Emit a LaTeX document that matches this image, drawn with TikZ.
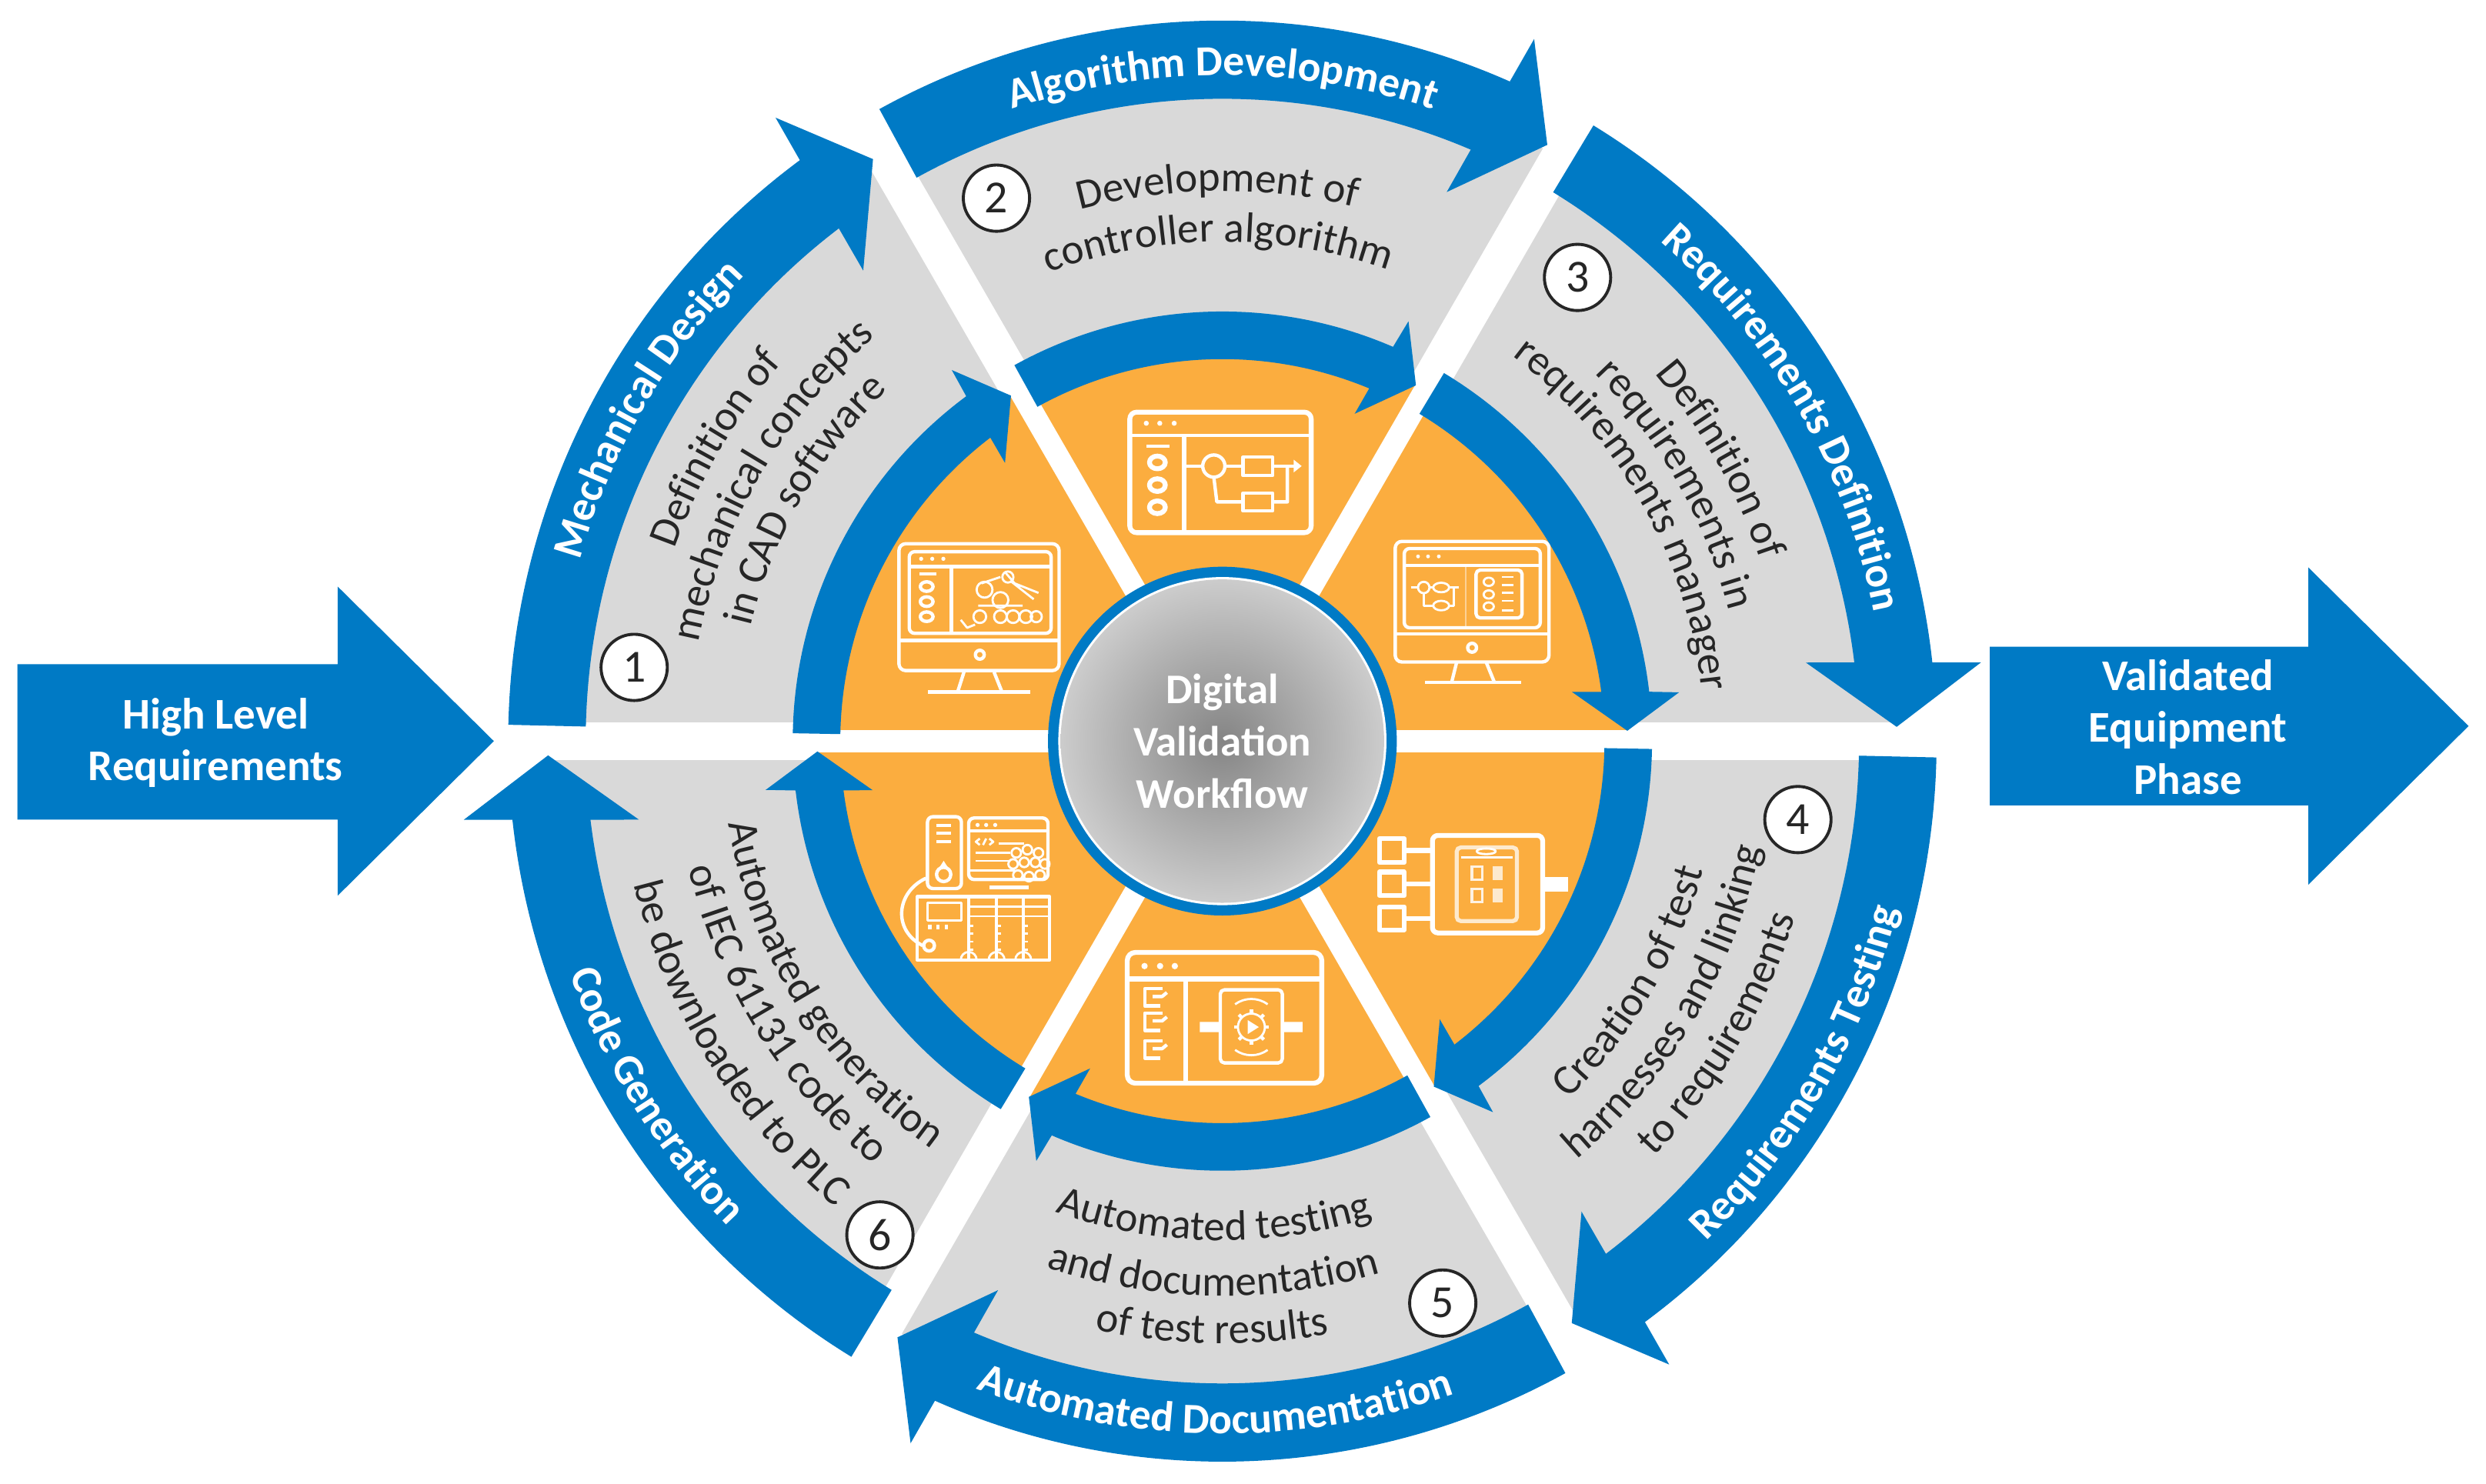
\documentclass[tikz,border=0pt]{standalone}
\usepackage{fontspec}
\setmainfont{Carlito}
\usetikzlibrary{decorations.text}
\definecolor{wfblue}{HTML}{007AC5}
\definecolor{wforange}{HTML}{FBAD3F}
\definecolor{wfgray}{HTML}{D9D9D9}
\definecolor{wfink}{HTML}{262626}
\newcommand{\lblfont}{\fontsize{15.8}{15.8}\bfseries\selectfont\color{white}}
\newcommand{\bodyfont}{\fontsize{15.7}{15.7}\selectfont\color{wfink}}
% #1 centre angle, #2 radius, #3 font, #4 text
\newcommand{\cwtext}[4]{\path[decorate,decoration={text along path,text align=center,text={|#3|#4}}]
  ({#1+42}:#2) arc[start angle={#1+42},end angle={#1-42},radius=#2];}
\newcommand{\ccwtext}[4]{\path[decorate,decoration={text along path,text align=center,text={|#3|#4}}]
  ({#1-42}:#2) arc[start angle={#1-42},end angle={#1+42},radius=#2];}
\tikzset{
  px/.style={shift={(-771,467.5)},yscale=-1},
  bigarrow/.style={fill=wfblue,draw=none},
  ic/.style={draw=white,line width=1.25pt,line join=round},
  icthin/.style={draw=white,line width=0.8pt,line join=round},
  icthick/.style={draw=white,line width=1.8pt,line join=round},
  dot/.style={fill=white,draw=none},
  numcircle/.style={circle,draw=wfink,fill=white,line width=1.1pt,minimum size=24.5pt,inner sep=0pt,font=\fontsize{17}{17}\selectfont,text=wfink},
  arrowtext/.style={align=center,text=white,font=\fontsize{16.2}{19.2}\bfseries\selectfont},
}
\begin{document}
\begin{tikzpicture}[x=0.020606cm,y=0.020606cm]
\useasboundingbox (-771,467.5) rectangle (797,-468.5);
% sectors
\fill[wfgray] (0,0) circle[radius=425];
\foreach \a in {0,60,120} \fill[white,rotate=\a] (-440,-11.8) rectangle (440,11.8);
\fill[wforange] (0,0) circle[radius=256];
\foreach \a in {0,60,120} \fill[white,rotate=\a] (-262,-7) rectangle (262,7);
% outer and inner curved arrows
\foreach \r in {0,60,...,300}{
  \fill[wfblue,yscale=1.009,rotate=\r] (58.7:450.5) arc[start angle=58.7,end angle=6.27,radius=450.5]
    -- (5.87:481) -- (1.2:425.4) -- (7.6:371.3) -- (7.04:401.6)
    arc[start angle=7.04,end angle=58.7,radius=401.6] -- cycle;
  \fill[wfblue,rotate=\r] (58.95:271) arc[start angle=58.95,end angle=6.6,radius=271]
    -- (6.1:289.7) -- (1.46:255.5) -- (8:222.7) -- (7.4:241)
    arc[start angle=7.4,end angle=58.95,radius=241] -- cycle;
}
% centre
\fill[wfblue] (0,0) circle[radius=110];
\fill[white] (0,0) circle[radius=103.5];
\shade[inner color=black!48,outer color=black!20] (0,0) circle[radius=102];
\node[align=center,text=white,font=\fontsize{15.6}{19.3}\bfseries\selectfont] (centre) at (0,0) {Digital\\Validation\\Workflow};
% curved labels on the outer arrows
\cwtext{150}{421}{\lblfont}{Mechanical Design}
\cwtext{90}{420}{\lblfont}{Algorithm Development}
\cwtext{30}{419}{\lblfont}{Requirements Definition}
\ccwtext{-30}{439}{\lblfont}{Requirements Testing}
\ccwtext{-90.6}{437}{\lblfont}{Automated Documentation}
\ccwtext{-148}{437}{\lblfont}{Code Generation}
% curved body text
\cwtext{150}{366}{\bodyfont}{Definition of}
\cwtext{150}{336}{\bodyfont}{mechanical concepts}
\cwtext{150}{306}{\bodyfont}{in CAD software}
\cwtext{90.5}{347}{\bodyfont}{Development of}
\cwtext{90.5}{315}{\bodyfont}{controller algorithm}
\cwtext{29.5}{358}{\bodyfont}{Definition of}
\cwtext{29.5}{330}{\bodyfont}{requirements in}
\cwtext{29.5}{304}{\bodyfont}{requirements manager}
\ccwtext{-30.5}{314}{\bodyfont}{Creation of test}
\ccwtext{-30.5}{346}{\bodyfont}{harnesses and linking}
\ccwtext{-30.5}{378}{\bodyfont}{to requirements}
\ccwtext{-91}{315}{\bodyfont}{Automated testing}
\ccwtext{-91}{350}{\bodyfont}{and documentation}
\ccwtext{-91}{380}{\bodyfont}{of test results}
\ccwtext{-148}{316}{\bodyfont}{Automated generation}
\ccwtext{-148}{346}{\bodyfont}{of IEC 61131 code to}
\ccwtext{-148}{382}{\bodyfont}{be downloaded to PLC}
\begin{scope}[px]
% big straight arrows
\fill[bigarrow] (11,419) -- (213,419) -- (213,370) -- (311.5,467.5) -- (213,565) -- (213,517) -- (11,517) -- cycle;
\fill[bigarrow] (1255,408) -- (1456,408) -- (1456,358) -- (1557,458) -- (1456,558) -- (1456,508) -- (1255,508) -- cycle;
\node[arrowtext] (high) at (136,468.5) {High Level\\Requirements};
\node[arrowtext] (valid) at (1380,458.5) {Validated\\Equipment\\Phase};
% numbered markers
\node[numcircle] (n1) at (400,421) {1};
\node[numcircle] (n2) at (628.5,125) {2};
\node[numcircle] (n3) at (995,175) {3};
\node[numcircle] (n4) at (1134,517) {4};
\node[numcircle] (n5) at (910,822) {5};
\node[numcircle] (n6) at (555,779) {6};
% --- icon 1: monitor with robot
\draw[ic,rounded corners=2.5pt] (567,343) rectangle (668,423);
\draw[ic] (567,404) -- (668,404);
\draw[ic,rounded corners=2pt] (573.5,348) rectangle (663,399.5);
\draw[ic] (573.5,357.5) -- (663,357.5) (600,357.5) -- (600,399.5);
\foreach \x in {581,588,595} \fill[dot] (\x,352.5) circle[radius=1.3];
\draw[ic] (580,362) -- (590.5,362);
\foreach \y in {370,379.5,389} \draw[ic] (584.5,\y) ellipse[x radius=4,y radius=3];
\draw[ic] (618,413) circle[radius=2.8];
\draw[ic] (608,424) -- (604,436.5) (627,424) -- (632,436.5);
\draw[ic] (585.5,436.5) -- (650,436.5);
\foreach \x/\r in {618/4,631/4,639/4,647/4,653.6/3.5} \draw[icthin] (\x,389) circle[radius=\r];
\draw[icthin] (621,372) circle[radius=5] (631,378.5) circle[radius=5] (635.7,364) circle[radius=3.5];
\draw[icthin] (617,382) -- (645,382) (631,364) -- (619,368) (638,367) -- (652,378) (634,361) -- (640,368) -- (655,374);
\draw[icthin] (606,391) -- (610,396) -- (615,394);
% --- icon 2: window with block diagram
\draw[icthick,rounded corners=2.5pt] (712.6,260) rectangle (827,336);
\draw[ic] (712.6,274.7) -- (827,274.7);
\draw[icthick] (747,274.7) -- (747,336);
\foreach \x in {723,731.5,740.6} \fill[dot] (\x,267) circle[radius=1.6];
\draw[ic] (723,281.5) -- (737.6,281.5);
\foreach \y in {291.7,306,320} \draw[icthick] (730,\y) ellipse[x radius=5,y radius=4];
\draw[ic] (765.6,294) circle[radius=7];
\draw[ic] (784,288.4) rectangle (802.7,300) (784,311) rectangle (802.7,322.3);
\draw[ic] (747,294) -- (758.6,294) (772.6,294) -- (784,294) (802.7,294) -- (817,294);
\fill[dot] (816,290) -- (821,294) -- (816,298) -- cycle;
\draw[ic] (812,294) -- (812,316.6) -- (802.7,316.6) (784,316.6) -- (767.5,316.6) -- (765.6,301);
% --- icon 3: monitor with flow chart and list
\draw[ic,rounded corners=2.5pt] (880,341.5) rectangle (977,417.6);
\draw[ic] (880,400) -- (977,400);
\draw[ic,rounded corners=2pt] (885.7,346) rectangle (971.5,396);
\draw[ic] (885.7,356.7) -- (971.5,356.7);
\foreach \x in {894.4,900.7,907.5} \fill[dot] (\x,351) circle[radius=1.2];
\draw[white,opacity=.45,line width=.5pt] (924.6,356.7) -- (924.6,396);
\draw[ic,rounded corners=1.5pt] (931,359.6) rectangle (960,389.8);
\foreach \y in {367,375,382.6} \draw[icthin] (939,\y) ellipse[x radius=3.2,y radius=2.6];
\foreach \y in {364,369,374,379,385} \draw[icthin] (947.5,\y) -- (954.5,\y);
\draw[icthin] (898,370.6) circle[radius=3.6] (909,370.6) ellipse[x radius=5,y radius=3] (909,382) ellipse[x radius=5,y radius=3];
\draw[icthin] (890,370.6) -- (894.4,370.6) (901.6,370.6) -- (904,370.6) (914,370.6) -- (920,370.6) (917,370.6) -- (917,382) -- (914,382) (904,382) -- (898,382) -- (898,374.2);
\draw[ic] (928.5,408.6) circle[radius=2.8];
\draw[ic] (918.7,418) -- (915.7,430) (937.5,418) -- (942.4,430);
\draw[ic] (898.8,430.5) -- (959.4,430.5);
% --- icon 4: test harness
\draw[icthick,rounded corners=2pt] (903.5,527) rectangle (973,588.5);
\draw[icthick] (870,529) rectangle (885.7,544) (870,550) rectangle (885.7,565) (870,572) rectangle (885.7,586.6);
\foreach \y in {536.5,557.5,579.3} \draw[icthick] (885.7,\y) -- (903.5,\y);
\fill[white] (973,553) rectangle (989,562.3);
\draw[white,opacity=.75,line width=1.5pt,rounded corners=1.5pt] (918.8,534.6) rectangle (956.8,581);
\draw[icthin] (937.4,537) ellipse[x radius=6,y radius=1.8];
\draw[icthin] (921.5,541) -- (954,541);
\foreach \y in {546.6,560.6} {
  \draw[white,opacity=.85,line width=.9pt] (928.4,\y) rectangle (935,\y+8.5);
  \fill[white,opacity=.75] (941.5,\y) rectangle (948,\y+8.5);
}
% --- icon 5: window with gear
\draw[icthick,rounded corners=3pt] (711,600.8) rectangle (833.7,683.3);
\draw[icthick] (711,617.6) -- (833.7,617.6) (748,617.6) -- (748,683.3);
\foreach \x in {721.9,731.7,741} \fill[dot] (\x,609.4) circle[radius=2];
\foreach \y in {623.6,639,656.5} {
  \draw[ic] (733.5,\y) -- (722,\y) -- (722,\y+11) -- (732,\y+11);
  \draw[ic] (727,\y+5) -- (733,\y+5) -- (736,\y+2.5);
}
\draw[ic,rounded corners=1.5pt] (769.7,624.4) rectangle (808.8,670.5);
\fill[white] (756.8,644.7) rectangle (769.7,651.1) (808.8,644.7) rectangle (821.6,651.1);
\draw[icthin] (789.3,647.9) circle[radius=8.5];
\foreach \a in {0,45,...,315} \draw[ic] (789.3,647.9) ++(\a:8.5) -- ++(\a:2.6);
\fill[dot] (787,643.5) -- (794,647.9) -- (787,652.3) -- cycle;
\draw[icthin] (779,633.5) arc[start angle=234,end angle=306,radius=17.5];
\draw[icthin] (779,662.3) arc[start angle=126,end angle=54,radius=17.5];
% --- icon 6: PLC
\draw[ic,rounded corners=2pt] (585,515.2) rectangle (606.4,560.5);
\foreach \y in {520.6,525.7,531} \draw[ic] (590.6,\y) -- (599.8,\y);
\draw[ic] (595.2,551.6) circle[radius=4.5];
\fill[dot] (595.2,543) -- (592,548) -- (598.4,548) -- cycle;
\draw[ic,rounded corners=2pt] (611,516) rectangle (661,554.8);
\draw[ic] (611,524) -- (661,524);
\foreach \x in {616.6,622,627.7} \fill[dot] (\x,520.4) circle[radius=1.3];
\draw[icthin] (618,529) -- (615.5,531) -- (618,533) (620,533) -- (622,529) (624,529) -- (626.5,531) -- (624,533);
\draw[icthin] (630,532) -- (646,532) (615.5,538) -- (637,538) (615.5,543) -- (636,543) (611,549) -- (640,549);
\foreach \x/\y in {641/538,648/536,655/538,639/545,646/544,653/544,659/545,642/552,649/553,656/552} \draw[icthin] (\x,\y) circle[radius=3];
\draw[ic] (624,559.7) -- (649,559.7);
\draw[ic] (578.5,565.7) rectangle (662,605.5);
\draw[ic] (611,565.7) -- (611,605.5) (628.6,565.7) -- (628.6,605.5) (645.4,565.7) -- (645.4,605.5);
\draw[icthin] (585,569.4) rectangle (606.4,580.7);
\foreach \x in {586.5,591.6,597} \fill[dot] (\x-1,583.5) rectangle (\x+1,586);
\draw[ic] (586,596.5) circle[radius=3.4];
\foreach \a/\b in {611/628.6,628.6/645.4,645.4/662} {
  \draw[icthin] (\a,572) -- (\b,572) (\a,578) -- (\b,578);
  \foreach \y in {584,589,594,599} \draw[icthin] (\a,\y) -- (\a+3,\y);
}
\foreach \x in {611,628.6,645.4} \draw[icthin] (\x-5,605.5) arc[start angle=180,end angle=360,radius=5];
\draw[ic] (584,554) .. controls (565,563) and (563,587) .. (582,596.5);
\end{scope}
\end{tikzpicture}
\end{document}
